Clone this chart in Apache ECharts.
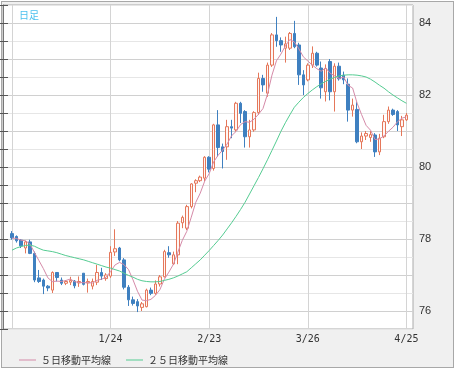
<!DOCTYPE html>
<html><head><meta charset="utf-8">
<script src="https://cdn.jsdelivr.net/npm/echarts@6/dist/echarts.min.js"></script>
<style>
html,body{margin:0;padding:0;background:#fff;}
#frame{position:absolute;left:1px;top:1px;width:451px;height:365px;border:1px solid #a8a8a8;background:#f0f0f0;}
#chart{position:absolute;left:0;top:0;width:456px;height:371px;}
</style></head><body>
<div id="frame"></div><div id="chart"></div>
<script>
// Trading days (Dec 23, 2011 – Apr 25, 2012)
const dates = ['12/23','12/26','12/27','12/28','12/29','12/30',
 '1/2','1/3','1/4','1/5','1/6','1/9','1/10','1/11','1/12','1/13','1/16','1/17','1/18','1/19','1/20','1/23','1/24','1/25','1/26','1/27','1/30','1/31',
 '2/1','2/2','2/3','2/6','2/7','2/8','2/9','2/10','2/13','2/14','2/15','2/16','2/17','2/20','2/21','2/22','2/23','2/24','2/27','2/28','2/29',
 '3/1','3/2','3/5','3/6','3/7','3/8','3/9','3/12','3/13','3/14','3/15','3/16','3/19','3/20','3/21','3/22','3/23','3/26','3/27','3/28','3/29','3/30',
 '4/2','4/3','4/4','4/5','4/6','4/9','4/10','4/11','4/12','4/13','4/16','4/17','4/18','4/19','4/20','4/23','4/24','4/25'];

const opens = [78.15,78.07,77.97,77.75,77.92,77.60,76.92,76.86,76.69,76.58,77.07,76.86,76.77,76.80,76.83,76.78,77.05,76.78,76.69,76.80,
 77.07,76.90,76.97,77.64,77.75,77.42,76.66,76.31,76.26,76.10,76.12,76.58,76.49,76.75,76.95,77.62,77.31,77.56,78.45,78.30,
 78.90,79.55,79.62,79.69,80.27,79.96,81.17,80.56,80.56,81.12,81.03,81.77,81.54,80.84,81.03,81.51,82.46,82.05,82.83,83.67,
 83.51,83.30,83.30,83.71,83.39,82.56,82.42,82.83,83.16,82.75,82.09,82.93,82.09,82.80,82.55,82.30,81.58,81.60,80.70,80.86,
 80.82,80.89,80.42,80.84,81.26,81.58,81.54,81.12,81.31];
const closes = [78.03,77.95,77.81,77.92,77.60,76.86,76.82,76.69,76.64,77.07,76.93,76.77,76.82,76.85,76.70,76.82,76.74,76.82,76.82,77.07,
 76.97,77.00,77.63,77.73,77.42,76.66,76.31,76.21,76.14,76.20,76.58,76.49,76.75,76.95,77.65,77.56,77.56,78.44,78.60,78.90,
 79.53,79.62,79.72,80.27,79.94,81.17,80.54,80.43,81.12,81.08,81.77,81.49,80.84,81.03,81.51,82.46,82.28,82.83,83.67,83.51,
 83.39,83.42,83.71,83.34,82.56,82.28,82.83,83.16,82.83,82.20,82.74,82.09,82.80,82.45,82.42,81.58,81.72,80.70,80.86,80.93,
 80.90,80.42,80.80,81.26,81.58,81.46,81.17,81.31,81.44];
const lows = [77.98,77.90,77.75,77.60,77.58,76.80,76.78,76.47,76.55,76.50,76.82,76.72,76.72,76.72,76.63,76.67,76.71,76.51,76.60,76.72,
 76.86,76.84,76.92,77.53,77.38,76.60,76.14,76.15,75.97,76.00,76.10,76.44,76.45,76.68,76.93,77.48,77.28,77.30,78.30,78.25,
 78.85,79.30,79.58,79.60,79.85,79.90,80.29,79.96,80.20,80.80,80.98,81.22,80.54,80.54,80.98,81.45,82.09,81.95,82.78,83.34,
 83.20,82.90,83.25,83.30,82.28,82.00,82.38,82.75,82.79,81.90,81.82,81.85,81.54,82.40,82.30,81.26,81.40,80.66,80.50,80.75,
 80.70,80.28,80.33,80.80,81.20,81.42,81.00,80.86,81.28];
const highs = [78.22,78.10,78.00,77.95,77.98,77.65,77.14,76.90,76.72,77.10,77.07,76.93,76.86,76.95,76.86,76.96,77.05,76.90,76.90,77.28,
 77.20,77.05,77.80,78.27,77.78,77.47,76.72,76.40,76.33,76.25,76.62,76.65,76.85,77.00,77.70,77.80,77.65,78.50,78.65,78.95,
 79.55,79.66,79.76,80.30,80.30,81.20,81.58,80.65,81.31,81.31,81.81,81.81,81.58,81.31,81.55,82.62,82.56,82.90,83.72,84.17,
 83.60,83.62,83.75,84.06,83.45,82.69,82.88,83.35,83.20,82.93,82.85,83.00,82.88,82.90,82.65,82.46,81.90,81.80,80.96,81.00,
 81.00,80.94,80.92,81.45,81.68,81.62,81.58,81.42,81.50];
// closes of the 4 trading days before the first candle (for the 5-day average)
const priorCloses = [78.00,78.05,78.00,78.05];
// 25-day moving average
const ma25 = [77.69,77.75,77.79,77.82,77.83,77.80,77.74,77.69,77.67,77.65,77.62,77.58,77.54,77.51,77.48,77.45,77.42,77.38,77.34,77.30,
 77.26,77.22,77.19,77.15,77.11,77.05,76.99,76.94,76.88,76.84,76.82,76.81,76.81,76.82,76.85,76.88,76.92,76.97,77.03,77.09,
 77.20,77.31,77.42,77.55,77.68,77.82,77.96,78.11,78.28,78.45,78.63,78.82,79.02,79.25,79.48,79.71,79.95,80.20,80.46,80.72,
 80.99,81.23,81.45,81.66,81.80,81.93,82.04,82.14,82.23,82.31,82.38,82.44,82.49,82.53,82.55,82.56,82.56,82.55,82.53,82.50,
 82.44,82.36,82.27,82.19,82.09,82.00,81.92,81.84,81.77];
const yTickLabels = [76,78,80,82,84];

const candles = opens.map((o,i)=>[o, closes[i], lows[i], highs[i]]);
const allCloses = priorCloses.concat(closes);
const ma5 = closes.map((_,i)=>{
  let s=0; for(let k=0;k<5;k++) s+=allCloses[i+4-k]; return +(s/5).toFixed(3);
});

const chart = echarts.init(document.getElementById('chart'));
chart.setOption({
  animation:false,
  title:{text:'日足', left:14, top:5, textStyle:{fontSize:10, color:'#4cc0ee', fontWeight:'normal', fontFamily:'Noto Sans CJK JP'}},
  legend:{data:['５日移動平均線','２５日移動平均線'], left:14, top:350, icon:'rect', itemWidth:17, itemHeight:1, itemGap:15,
    textStyle:{fontSize:10, color:'#333', fontFamily:'Noto Sans CJK JP'}},
  grid:[{left:3, right:43, top:5, bottom:42, show:true, backgroundColor:'#fff', borderColor:'#aaa', borderWidth:1},
        {left:12, right:49.6, top:5, bottom:42}],
  xAxis:[{type:'value', gridIndex:0, show:false, min:0, max:1},
    {type:'category', gridIndex:1, data:dates, boundaryGap:false,
     axisLine:{show:false}, axisTick:{show:false},
     axisLabel:{interval:21, formatter:(v,i)=> i===0 ? '' : v, fontSize:10, fontFamily:'DejaVu Sans Mono', color:'#333', margin:5},
     splitLine:{show:true, interval:21, lineStyle:{color:'#d4d4d4'}}}],
  yAxis:[{type:'value', gridIndex:0, position:'right', min:75.5, max:84.5, interval:0.5,
     axisLine:{show:true, lineStyle:{color:'#777'}},
     axisTick:{show:true, inside:true, length:3, lineStyle:{color:'#555'}},
     axisLabel:{formatter:v => yTickLabels.some(t=>Math.abs(t-v)<1e-6) ? String(v) : '', fontSize:11, color:'#333', margin:6, fontFamily:'Liberation Sans'},
     splitLine:{show:true, lineStyle:{color:['#e6e6e6','#d0d0d0']}}},
    {type:'value', gridIndex:0, position:'left', min:75.5, max:84.5, interval:0.5,
     axisLine:{show:false}, axisTick:{show:true, inside:true, length:5, lineStyle:{color:'#555'}},
     axisLabel:{show:false}, splitLine:{show:false}},
    {type:'value', gridIndex:1, min:75.5, max:84.5, show:false}],
  series:[
    {type:'candlestick', xAxisIndex:1, yAxisIndex:2, data:candles, barWidth:3,
     itemStyle:{color:'#fff6f3', color0:'#3f80c0', borderColor:'#e5775a', borderColor0:'#3f80c0', borderWidth:1}},
    {name:'５日移動平均線', type:'line', xAxisIndex:1, yAxisIndex:2, data:ma5, symbol:'none', itemStyle:{color:'#d58aa8'}, lineStyle:{width:1, color:'#d58aa8'}},
    {name:'２５日移動平均線', type:'line', xAxisIndex:1, yAxisIndex:2, data:ma25, symbol:'none', itemStyle:{color:'#55cc92'}, lineStyle:{width:1, color:'#55cc92'}}
  ]
});
</script></body></html>
